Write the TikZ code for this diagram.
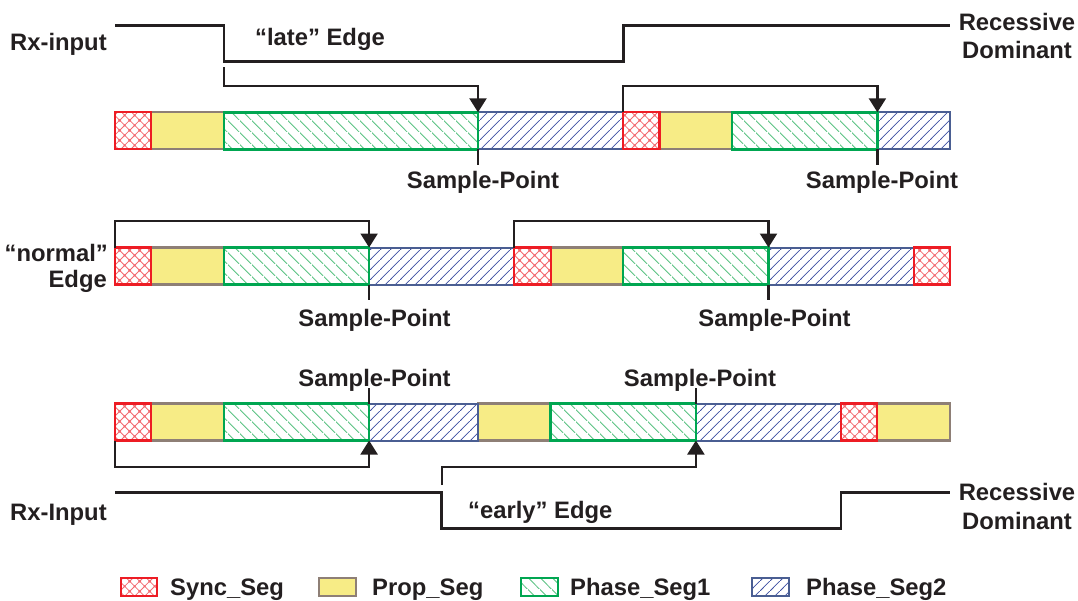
\documentclass[tikz,border=0pt]{standalone}
\usepackage{fontspec}
\setmainfont{Liberation Sans}
\usetikzlibrary{patterns,arrows.meta}

\definecolor{txt}{HTML}{231F20}
\definecolor{syncred}{HTML}{ED1C24}
\definecolor{synclight}{HTML}{F26A70}
\definecolor{propyellow}{HTML}{F7EC86}
\definecolor{propbrown}{HTML}{8E7F76}
\definecolor{phonegreen}{HTML}{00A651}
\definecolor{phonelight}{HTML}{5CC283}
\definecolor{phtwoblue}{HTML}{4A5E92}
\definecolor{phtwolight}{HTML}{3F51A3}

\pgfdeclarepatternformonly{syncpat}{\pgfpoint{0pt}{0pt}}{\pgfpoint{10pt}{10pt}}{\pgfpoint{10pt}{10pt}}{%
  \pgfsetlinewidth{0.8pt}%
  \pgfpathmoveto{\pgfpoint{-1pt}{-1pt}}\pgfpathlineto{\pgfpoint{11pt}{11pt}}%
  \pgfpathmoveto{\pgfpoint{-1pt}{11pt}}\pgfpathlineto{\pgfpoint{11pt}{-1pt}}%
  \pgfusepath{stroke}%
  \pgfpathcircle{\pgfpoint{5pt}{5pt}}{1.2pt}%
  \pgfpathcircle{\pgfpoint{0pt}{0pt}}{1.2pt}%
  \pgfpathcircle{\pgfpoint{10pt}{0pt}}{1.2pt}%
  \pgfpathcircle{\pgfpoint{0pt}{10pt}}{1.2pt}%
  \pgfpathcircle{\pgfpoint{10pt}{10pt}}{1.2pt}%
  \pgfusepath{fill}}

\pgfdeclarepatternformonly{phonepat}{\pgfpoint{0pt}{0pt}}{\pgfpoint{12pt}{12pt}}{\pgfpoint{12pt}{12pt}}{%
  \pgfsetlinewidth{0.9pt}%
  \pgfpathmoveto{\pgfpoint{-1pt}{13pt}}\pgfpathlineto{\pgfpoint{13pt}{-1pt}}%
  \pgfusepath{stroke}}

\pgfdeclarepatternformonly{phtwopat}{\pgfpoint{0pt}{0pt}}{\pgfpoint{10pt}{10pt}}{\pgfpoint{10pt}{10pt}}{%
  \pgfsetlinewidth{0.8pt}%
  \pgfpathmoveto{\pgfpoint{-1pt}{-1pt}}\pgfpathlineto{\pgfpoint{11pt}{11pt}}%
  \pgfusepath{stroke}}

\def\tq{36.304}
\newcommand\segbox[4]{\draw[#1] ({115+#2*\tq},#4) rectangle ({115+#3*\tq},{#4+37});}

\begin{document}
\begin{tikzpicture}[x=1pt,y=-1pt,
  syncseg/.style={draw=syncred, line width=2.2pt, pattern=syncpat, pattern color=synclight},
  propseg/.style={draw=propbrown, line width=2.2pt, fill=propyellow},
  phoneseg/.style={draw=phonegreen, line width=2.4pt, pattern=phonepat, pattern color=phonelight},
  phtwoseg/.style={draw=phtwoblue, line width=2pt, pattern=phtwopat, pattern color=phtwolight},
  sig/.style={draw=txt, line width=2.6pt},
  arr/.style={draw=txt, line width=2.2pt, -{Triangle[length=14pt,width=17pt]}},
  tick/.style={draw=txt, line width=2.4pt},
  lbl/.style={font=\fontsize{23.8}{28}\selectfont\bfseries, text=txt, inner sep=0pt},
  keybox/.style={line width=1.3pt}
]
\useasboundingbox (0,0) rectangle (1078,600);

% ---------- row 1 ----------
\segbox{propseg}{1}{3}{112.3}
\segbox{propseg}{15}{17}{112.3}
\segbox{phtwoseg}{10}{14}{112.3}
\segbox{phtwoseg}{21}{23}{112.3}
\segbox{phoneseg}{3}{10}{112.3}
\segbox{phoneseg}{17}{21}{112.3}
\segbox{syncseg}{0}{1}{112.3}
\segbox{syncseg}{14}{15}{112.3}

% ---------- row 2 ----------
\segbox{propseg}{1}{3}{247.5}
\segbox{propseg}{12}{14}{247.5}
\segbox{phtwoseg}{7}{11}{247.5}
\segbox{phtwoseg}{18}{22}{247.5}
\segbox{phoneseg}{3}{7}{247.5}
\segbox{phoneseg}{14}{18}{247.5}
\segbox{syncseg}{0}{1}{247.5}
\segbox{syncseg}{11}{12}{247.5}
\segbox{syncseg}{22}{23}{247.5}

% ---------- row 3 ----------
\segbox{propseg}{1}{3}{403.5}
\segbox{propseg}{10}{12}{403.5}
\segbox{propseg}{21}{23}{403.5}
\segbox{phtwoseg}{7}{10}{403.5}
\segbox{phtwoseg}{16}{20}{403.5}
\segbox{phoneseg}{3}{7}{403.5}
\segbox{phoneseg}{12}{16}{403.5}
\segbox{syncseg}{0}{1}{403.5}
\segbox{syncseg}{20}{21}{403.5}

% ---------- signals ----------
\coordinate (s1a) at (115,25.3);
\coordinate (s1b) at (950,25.3);
\draw[sig] (s1a) -- (223.9,25.3) -- (223.9,61.7) -- (623.3,61.7) -- (623.3,25.3) -- (s1b);
\coordinate (s3a) at (115,492.7);
\coordinate (s3b) at (950,492.7);
\draw[sig] (s3a) -- (441.7,492.7) -- (441.7,528.7) -- (841.1,528.7) -- (841.1,492.7) -- (s3b);

% ---------- arrows ----------
\coordinate (a1s) at (223.9,67);   \coordinate (a1e) at (478,112.3);
\coordinate (b1s) at (623.3,112.3);\coordinate (b1e) at (877.4,112.3);
\draw[arr] (a1s) -- (223.9,86) -| (a1e);
\draw[arr] (b1s) -- (623.3,86) -| (b1e);

\coordinate (a2s) at (115,247.5);  \coordinate (a2e) at (369.1,247.5);
\coordinate (b2s) at (514.3,247.5);\coordinate (b2e) at (768.5,247.5);
\draw[arr] (a2s) -- (115,221) -| (a2e);
\draw[arr] (b2s) -- (514.3,221) -| (b2e);

\coordinate (a3s) at (115,440.5);  \coordinate (a3e) at (369.1,440.5);
\coordinate (b3s) at (441.7,485);  \coordinate (b3e) at (695.9,440.5);
\draw[arr] (a3s) -- (115,466.7) -| (a3e);
\draw[arr] (b3s) -- (441.7,466.7) -| (b3e);

% ---------- sample point ticks ----------
\draw[tick] (478,149.3) -- (478,164.5);
\draw[tick] (877.4,149.3) -- (877.4,164.5);
\draw[tick] (369.1,284.5) -- (369.1,300);
\draw[tick] (768.5,284.5) -- (768.5,300);
\draw[tick] (369.1,403.5) -- (369.1,388);
\draw[tick] (695.9,403.5) -- (695.9,388);

% ---------- labels ----------
\node[lbl, anchor=base west] (rx1) at (10,50) {Rx-input};
\node[lbl, anchor=base west] (late) at (255,45) {“late” Edge};
\node[lbl, anchor=base] (rec1) at (1017,30) {Recessive};
\node[lbl, anchor=base] (dom1) at (1017,58) {Dominant};
\node[lbl, anchor=base] (sp1a) at (483,188) {Sample-Point};
\node[lbl, anchor=base] (sp1b) at (882,188) {Sample-Point};

\node[lbl, anchor=base east] (norm) at (108,261) {“normal”};
\node[lbl, anchor=base east] (edge2) at (107,287) {Edge};
\node[lbl, anchor=base] (sp2a) at (374.5,326) {Sample-Point};
\node[lbl, anchor=base] (sp2b) at (774.5,326) {Sample-Point};

\node[lbl, anchor=base] (sp3a) at (374.5,386) {Sample-Point};
\node[lbl, anchor=base] (sp3b) at (700,386) {Sample-Point};
\node[lbl, anchor=base west] (rx3) at (10,520) {Rx-Input};
\node[lbl, anchor=base west] (early) at (468,518) {“early” Edge};
\node[lbl, anchor=base] (rec3) at (1017,500) {Recessive};
\node[lbl, anchor=base] (dom3) at (1017,529.5) {Dominant};

% ---------- legend ----------
\draw[syncseg, keybox] (121,578) rectangle (157,596);
\node[lbl, anchor=base west] (ksync) at (170,595) {Sync\_Seg};
\draw[propseg, keybox] (319,578) rectangle (356,596);
\node[lbl, anchor=base west] (kprop) at (372,595) {Prop\_Seg};
\draw[phoneseg, keybox] (521,578) rectangle (558,596);
\node[lbl, anchor=base west] (kph1) at (570,595) {Phase\_Seg1};
\draw[phtwoseg, keybox] (752,578) rectangle (789,596);
\node[lbl, anchor=base west] (kph2) at (806,595) {Phase\_Seg2};
\end{tikzpicture}
\end{document}
